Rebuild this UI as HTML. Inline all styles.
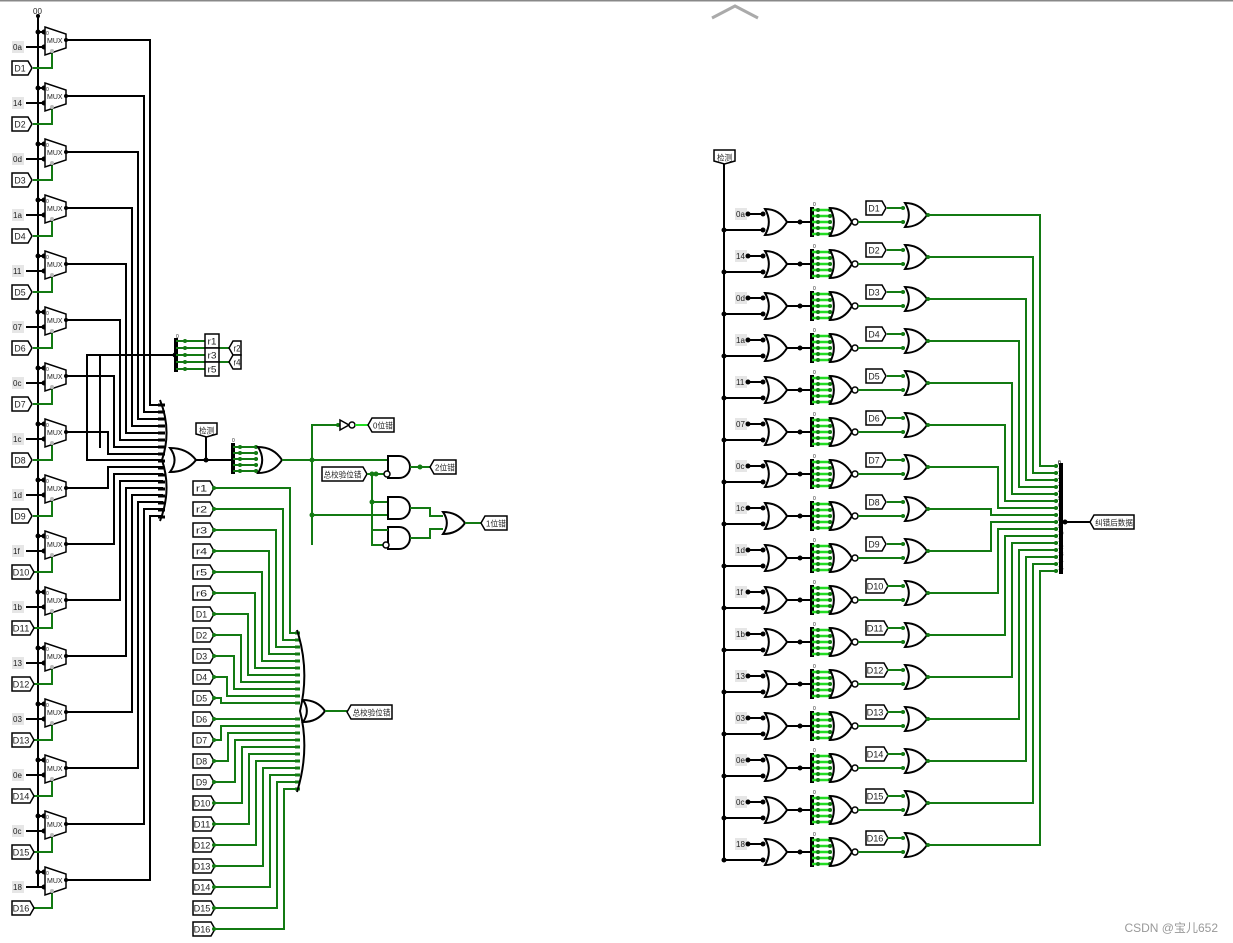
<!DOCTYPE html>
<html><head><meta charset="utf-8"><style>
html,body{margin:0;padding:0;background:#fff;width:1233px;height:943px;overflow:hidden}
svg{display:block}
text{font-family:"Liberation Sans","Noto Sans CJK SC",sans-serif;fill:#222}
</style></head><body>
<svg id="s" width="1233" height="943" viewBox="0 0 1233 943" xmlns="http://www.w3.org/2000/svg">
<line x1="0" y1="0.5" x2="1233" y2="0.5" stroke="#888" stroke-width="2"/>
<polyline points="712,18 735,6 758,18" fill="none" stroke="#aaa" stroke-width="3"/>
<text x="1218" y="932" font-size="12" text-anchor="end" style="fill:#999">CSDN @宝儿652</text>
</svg>
<script>
var S=document.getElementById('s'),h='';
var G='#137a13',B='#000',LG='#22dd22';
function L(x1,y1,x2,y2,c,w){h+='<line x1="'+x1+'" y1="'+y1+'" x2="'+x2+'" y2="'+y2+'" stroke="'+(c||B)+'" stroke-width="'+(w||2)+'"/>';}
function P(pts,c,w){h+='<polyline points="'+pts.join(' ')+'" fill="none" stroke="'+(c||B)+'" stroke-width="'+(w||2)+'"/>';}
function D(x,y,c,r){h+='<circle cx="'+x+'" cy="'+y+'" r="'+(r||2.5)+'" fill="'+(c||B)+'"/>';}
function T(x,y,t,s,a){h+='<text x="'+x+'" y="'+y+'" font-size="'+(s||9)+'"'+(a?' text-anchor="'+a+'"':'')+'>'+t+'</text>';}
function tw(t){var w=0;for(var i=0;i<t.length;i++)w+=t.charCodeAt(i)>255?8.5:5.6;return w;}
function box(x,y,w,t,pt){
 var y0=y-7,y1=y+7,d;
 if(pt=='r')d='M'+x+','+y0+'H'+(x+w-4)+'L'+(x+w)+','+y+'L'+(x+w-4)+','+y1+'H'+x+'Z';
 else if(pt=='l')d='M'+(x+4)+','+y0+'H'+(x+w)+'V'+y1+'H'+(x+4)+'L'+x+','+y+'Z';
 else if(pt=='b')d='M'+x+','+y0+'H'+(x+w)+'V'+(y1-3)+'L'+(x+w/2)+','+(y1)+'L'+x+','+(y1-3)+'Z';
 else d='M'+x+','+y0+'H'+(x+w)+'V'+y1+'H'+x+'Z';
 h+='<path d="'+d+'" fill="#fff" stroke="#000" stroke-width="1.5"/>';
 var cx=x+w/2+(pt=='r'?-2:pt=='l'?2:0);
 var fs=/[^\x00-\xff]/.test(t)?8:9;
 h+='<text x="'+cx+'" y="'+(y+3.5)+'" font-size="'+fs+'" text-anchor="middle" textLength="'+Math.min(tw(t)*fs/9,w-5)+'" lengthAdjust="spacingAndGlyphs">'+t+'</text>';}
function gl(x,y,t){h+='<rect x="'+x+'" y="'+(y-6)+'" width="12" height="12" fill="#e6e6e6"/>';T(x+1,y+3,t,8);}
function OR(x,y,w,hh){var a=hh/2;h+='<path d="M'+x+','+(y-a)+'Q'+(x+w*0.35)+','+y+' '+x+','+(y+a)+'Q'+(x+w*0.65)+','+(y+a)+' '+(x+w)+','+y+'Q'+(x+w*0.65)+','+(y-a)+' '+x+','+(y-a)+'Z" fill="#fff" stroke="#000" stroke-width="2"/>';}
function AND(x,y,w,hh){var a=hh/2;h+='<path d="M'+x+','+(y-a)+'H'+(x+w-a)+'A'+a+','+a+' 0 0 1 '+(x+w-a)+','+(y+a)+'H'+x+'Z" fill="#fff" stroke="#000" stroke-width="2"/>';}
function bub(x,y){h+='<circle cx="'+x+'" cy="'+y+'" r="3" fill="#fff" stroke="#000" stroke-width="1.5"/>';}

/* ===== left MUX column ===== */
var consts=['0a','14','0d','1a','11','07','0c','1c','1d','1f','1b','13','03','0e','0c','18'];
L(38,15,38,886);T(33,14,'00',8);D(38,16,B,2);
for(var i=0;i<16;i++){
 var oy=40+56*i;
 var py=i<8?405+7*i:467+7*(i-8);
 var X=i<8?150-6*i:150-6*(15-i);
 P([66+','+oy,X+','+oy,X+','+py,163+','+py]);
 L(38,oy-8,45,oy-8);D(38,oy-8);D(44,oy-8);
 L(26,oy+7,45,oy+7);D(44,oy+7);gl(12,oy+7,consts[i]);
 P([33+','+(oy+28),52+','+(oy+28),52+','+(oy+13)],G);
 h+='<polygon points="45,'+(oy-13)+' 66,'+(oy-6)+' 66,'+(oy+8)+' 45,'+(oy+15)+'" fill="#fff" stroke="#000" stroke-width="1.5"/>';
 T(47,oy+3,'MUX',7);T(46,oy-5,'0',5);D(52,oy+11,'#bbb',2);D(66,oy,B,2);
 box(12,oy+28,i<9?20:22,'D'+(i+1),'r');
}
P(['175,355','87,355','87,460','163,460']);D(175,355);
L(100,355,100,448);
for(var k=0;k<17;k++){L(158,405+7*k,165,405+7*k,B,3);}
h+='<path d="M160,400Q172,430 162,460Q172,490 160,521" fill="none" stroke="#000" stroke-width="2"/>';
OR(170,460,26,24);
L(196,460,232,460);D(206,460);L(206,437,206,460);box(196,430,21,'检测','b');
L(176,338,176,372,B,4);
[341,348,355,362,369].forEach(function(y,j){L(176,y,j%2?229:205,y,G);D(185,y,G,2);});
T(176,338,'0',5);
box(205,341,14,'r1');box(205,355,14,'r3');box(205,369,14,'r5');
box(229,348,12,'r2','l');box(229,362,12,'r4','l');
L(233,443,233,474,B,4);T(232,442,'0',5);
for(var j=0;j<5;j++){var y=447+6*j;L(233,y,258,y,G);D(240,y,G,2);D(256,y,G,2);}
OR(258,460,24,26);
P(['282,460','388,460'],G);D(312,460,G);
P(['312,545','312,425','338,425'],G);D(338,425,G,2);
h+='<polygon points="340,420 340,430 349,425" fill="#fff" stroke="#000" stroke-width="1.5"/>';bub(352,425);
L(355,425,368,425,LG);box(368,425,26,'0位错','l');
AND(388,467,22,22);L(410,467,430,467,G);D(420,467,G);box(430,467,26,'2位错','l');
box(322,474,45,'总校验位错','r');P(['367,474','386,474'],G);bub(387,474);D(376,474,G);D(372,474,G);
P(['372,474','372,545','385,545'],G);D(372,502,G);
L(372,502,388,502,G);L(312,515,388,515,G);D(312,515,G);
AND(388,508,22,22);AND(388,538,22,22);L(372,530,388,530,G);bub(386,545);
P(['410,508','430,508','430,516','443,516'],G);P(['410,538','430,538','430,529','443,529'],G);
OR(443,523,22,22);L(465,523,481,523,G);box(481,523,26,'1位错','l');
var ins=['r1','r2','r3','r4','r5','r6'];for(i=1;i<=16;i++)ins.push('D'+i);
for(k=0;k<22;k++){
 var y=488+21*k;box(193,y,ins[k].length>2?22:21,ins[k],'r');D(214,y,G,2);
 var pin;
 if(k<10){pin=633+7*k;P([214+','+y,(290-7*k)+','+y,(290-7*k)+','+pin,298+','+pin],G);}
 else if(k==10){pin=703;P(['214,698','221,698','221,'+pin,'298,'+pin],G);}
 else if(k==11){pin=719;P(['214,719','298,719'],G);}
 else {var jj=k-12;pin=726+7*jj;var xx=221+7*jj;P([214+','+y,xx+','+y,xx+','+pin,298+','+pin],G);}
 L(295,pin,300,pin,G,3);
}
h+='<path d="M297,630Q310,670 300,711Q310,750 297,792" fill="none" stroke="#000" stroke-width="2"/>';
OR(303,711,22,22);L(325,711,347,711,G);box(347,712,45,'总校验位错','l');

/* ===== right section ===== */
var rc=['0a','14','0d','1a','11','07','0c','1c','1d','1f','1b','13','03','0e','0c','18'];
box(714,157,21,'检测','b');L(724,164,724,859);
for(k=0;k<16;k++){
 var cy=222+42*k;
 gl(735,cy-8,rc[k]);L(747,cy-8,765,cy-8);D(748,cy-8);D(763,cy-8);
 L(724,cy+8,765,cy+8);D(724,cy+8);D(763,cy+8);
 OR(765,cy,22,26);L(787,cy,812,cy);D(800,cy);
 L(812,cy-15,812,cy+15,B,4);T(813,cy-16,'0',5);
 for(j=0;j<5;j++){var yy=cy-12+6*j;L(812,yy,832,yy,LG,2.5);D(818,yy,G,2);D(830,yy,G,2);}
 OR(830,cy,22,28);bub(855,cy);
 L(858,cy,905,cy,G);D(903,cy,G,2);
 box(866,cy-14,k<9?20:22,'D'+(k+1),'r');L(887,cy-14,905,cy-14,G);D(903,cy-14,G,2);
 OR(905,cy-7,22,24);
 var oy2=cy-7,pn=466+7*k,xx2=k<8?1040-7*k:1040-7*(15-k);
 P([927+','+oy2,xx2+','+oy2,xx2+','+pn,1058+','+pn],G);D(928,oy2,G,2);D(1056,pn,G,2);
 T(1058,pn-1,String(k),5);
}
L(1061,463,1061,574,B,4);T(1058,464,'0',5);
L(1063,522,1090,522);D(1065,522);box(1090,522,44,'纠错后数据','l');
S.insertAdjacentHTML('beforeend',h);
</script>
</body></html>
